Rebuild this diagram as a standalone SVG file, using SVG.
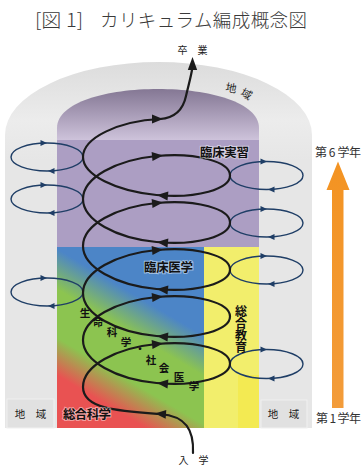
<svg xmlns="http://www.w3.org/2000/svg" width="361" height="465" viewBox="0 0 361 465">
<defs>
<style>
text{font-family:"Noto Sans CJK JP","Noto Sans",sans-serif;fill:#222}
.lbl{font-size:12.5px;font-weight:700;fill:#111;stroke:#fff;stroke-opacity:.45;stroke-width:2;paint-order:stroke}
.sm{font-size:10px;fill:#222}
.diag{font-size:10.5px;font-weight:700;fill:#111;text-anchor:middle}
.vert{font-size:12px;font-weight:700;fill:#111;writing-mode:vertical-rl}
.helix{fill:none;stroke:#1b1b1b;stroke-width:2.2;stroke-linecap:round}
.loop{fill:none;stroke:#1f3e66;stroke-width:1.4}
.ah{fill:#1b1b1b}
.bh{fill:#1f3e66}
</style>
<linearGradient id="gOuter" x1="0" y1="62" x2="0" y2="160" gradientUnits="userSpaceOnUse"><stop offset="0" stop-color="#dcdcdc"/><stop offset="0.6" stop-color="#ececec"/><stop offset="1" stop-color="#e6e6e6"/></linearGradient>
<linearGradient id="gDome" x1="0" y1="89" x2="0" y2="247" gradientUnits="userSpaceOnUse"><stop offset="0" stop-color="#847794"/><stop offset="0.32" stop-color="#cdc2da"/><stop offset="0.322" stop-color="#ac9ec3"/><stop offset="1" stop-color="#ac9ec3"/></linearGradient>
<linearGradient id="gMed" x1="72" y1="438" x2="190" y2="238.5" gradientUnits="userSpaceOnUse"><stop offset="0" stop-color="#e95252"/><stop offset="0.2" stop-color="#e95252"/><stop offset="0.34" stop-color="#8cc450"/><stop offset="0.52" stop-color="#8cc450"/><stop offset="0.67" stop-color="#4c85c7"/><stop offset="1" stop-color="#4c85c7"/></linearGradient>
<linearGradient id="gOrange" x1="0" y1="161" x2="0" y2="408" gradientUnits="userSpaceOnUse"><stop offset="0" stop-color="#f39322"/><stop offset="1" stop-color="#f39c3a"/></linearGradient>
<path id="ah" d="M0,0 L-11,-4.5 L-11,4.5 Z"/>
<path id="bh" d="M0,0 L-6.5,-3 L-6.5,3 Z"/>
</defs>

<g id="title">
<text x="35" y="27" style="font-size:18.5px;font-weight:300;fill:#3a3a3a" textLength="48" lengthAdjust="spacingAndGlyphs">[図 1]</text>
<text x="100" y="27" style="font-size:18.5px;font-weight:300;fill:#3a3a3a" textLength="207">カリキュラム編成概念図</text>
</g>

<g id="region-community">
<path d="M5,428 V135 A153.5,73 0 0 1 312,135 V428 Z" fill="url(#gOuter)"/>
<text x="231" y="92" class="sm" style="font-size:11px" text-anchor="middle" transform="rotate(10 231 88)">地</text>
<text x="246.5" y="98" class="sm" style="font-size:11px" text-anchor="middle" transform="rotate(30 246.5 94)">域</text>
</g>

<g id="region-clinical-practice">
<path d="M57,247 V128 C57,76 259,76 259,128 V247 Z" fill="url(#gDome)"/>
</g>

<g id="region-medicine">
<rect x="57" y="247" width="147" height="181" fill="url(#gMed)"/>
</g>

<g id="region-general-education">
<rect x="204" y="247" width="55" height="181" fill="#f2ee6c"/>
<rect x="238" y="375" width="21" height="53" fill="#f3ea52"/>
</g>

<g id="box-community-left">
<rect x="7" y="399" width="47" height="29" fill="#e1e1e1" stroke="#f0f0f0" stroke-width="1"/>
<text x="30.5" y="418" style="font-size:10.5px" text-anchor="middle">地　域</text>
</g>
<g id="box-community-right">
<rect x="261" y="400" width="46" height="28" fill="#e1e1e1" stroke="#f0f0f0" stroke-width="1"/>
<text x="283.5" y="418" style="font-size:10.5px" text-anchor="middle">地　域</text>
</g>

<g id="connectors">
<g id="loops-left">
<ellipse class="loop" cx="47" cy="157" rx="36" ry="14"/>
<ellipse class="loop" cx="47" cy="199" rx="36" ry="14"/>
<ellipse class="loop" cx="47" cy="292" rx="36" ry="14"/>
<use href="#bh" class="bh" transform="translate(47,143)"/>
<use href="#bh" class="bh" transform="translate(48,171) rotate(180)"/>
<use href="#bh" class="bh" transform="translate(47,185)"/>
<use href="#bh" class="bh" transform="translate(48,213) rotate(180)"/>
<use href="#bh" class="bh" transform="translate(47,278)"/>
<use href="#bh" class="bh" transform="translate(48,306) rotate(180)"/>
</g>
<g id="loops-right">
<ellipse class="loop" cx="266.5" cy="175.5" rx="36.5" ry="14"/>
<ellipse class="loop" cx="266.5" cy="223" rx="36.5" ry="14"/>
<ellipse class="loop" cx="266.5" cy="270" rx="36.5" ry="14"/>
<ellipse class="loop" cx="266.5" cy="364" rx="36.5" ry="14.5"/>
<use href="#bh" class="bh" transform="translate(267,161.5)"/>
<use href="#bh" class="bh" transform="translate(268,189.5) rotate(180)"/>
<use href="#bh" class="bh" transform="translate(267,209)"/>
<use href="#bh" class="bh" transform="translate(268,237) rotate(180)"/>
<use href="#bh" class="bh" transform="translate(267,256)"/>
<use href="#bh" class="bh" transform="translate(268,284) rotate(180)"/>
<use href="#bh" class="bh" transform="translate(267,349.5)"/>
<use href="#bh" class="bh" transform="translate(268,378.5) rotate(180)"/>
</g>
<path id="helix" class="helix" d="M193,453 C194,430 186,416 160,414 C118,411 83,409 83,387
C83,365.82 115.91,347.92 156.5,344 C197.09,340.08 230,350.16 230,363.5 C230,376.84 197.09,386.92 156.5,383 C115.91,379.08 83,361.18 83,340
C83,318.82 115.91,300.92 156.5,297 C197.09,293.08 230,303.16 230,316.5 C230,329.84 197.09,339.92 156.5,336 C115.91,332.08 83,314.18 83,293
C83,271.82 115.91,253.92 156.5,250 C197.09,246.08 230,256.16 230,269.5 C230,282.84 197.09,292.92 156.5,289 C115.91,285.08 83,267.18 83,246
C83,224.82 115.91,206.92 156.5,203 C197.09,199.08 230,209.16 230,222.5 C230,235.84 197.09,245.92 156.5,242 C115.91,238.08 83,220.18 83,199
C83,177.82 115.91,159.92 156.5,156 C197.09,152.08 230,162.16 230,175.5 C230,188.84 197.09,198.92 156.5,195 C115.91,191.08 83,175 83,157
C83,138 118,121 160,119 C174,118 183,110 186,96 C188.5,85 191,77 192.3,68"/>
<polygon class="ah" points="192.5,57 187.8,70 197.2,70"/>
<g id="helix-arrows">
<use href="#ah" class="ah" transform="translate(155,413.6) rotate(184)"/>
<use href="#ah" class="ah" transform="translate(163,343.4) rotate(-5.7)"/>
<use href="#ah" class="ah" transform="translate(157,383) rotate(185.7)"/>
<use href="#ah" class="ah" transform="translate(163,296.4) rotate(-5.7)"/>
<use href="#ah" class="ah" transform="translate(157,336) rotate(185.7)"/>
<use href="#ah" class="ah" transform="translate(163,249.4) rotate(-5.7)"/>
<use href="#ah" class="ah" transform="translate(157,289) rotate(185.7)"/>
<use href="#ah" class="ah" transform="translate(163,202.4) rotate(-5.7)"/>
<use href="#ah" class="ah" transform="translate(157,242) rotate(185.7)"/>
<use href="#ah" class="ah" transform="translate(163,155.4) rotate(-5.7)"/>
<use href="#ah" class="ah" transform="translate(157,195) rotate(185.7)"/>
<use href="#ah" class="ah" transform="translate(163,119)"/>
</g>
<polygon id="year-arrow" points="332,408 332,190 326.5,190 338,161.5 349.5,190 343.5,190 343.5,408" fill="url(#gOrange)"/>
</g>

<g id="node-graduation"><text x="192.5" y="54" class="sm" text-anchor="middle">卒　業</text></g>
<g id="node-admission"><text x="193.5" y="463.5" class="sm" text-anchor="middle">入　学</text></g>
<g id="node-year6"><text x="315" y="157" style="font-size:12px;fill:#333" textLength="46">第 6 学年</text></g>
<g id="node-year1"><text x="316" y="423" style="font-size:12px;fill:#333" textLength="45">第 1 学年</text></g>

<g id="node-clinical-practice"><text x="200" y="156.5" class="lbl" textLength="49">臨床実習</text></g>
<g id="node-clinical-medicine"><text x="144" y="272" class="lbl" textLength="49">臨床医学</text></g>
<g id="node-general-science"><text x="63" y="419" class="lbl" textLength="48">総合科学</text></g>
<g id="node-general-education">
<text x="241" y="305" class="vert">総合教育</text>
</g>
<g id="node-life-social-medicine">
<text x="85" y="317" class="diag">生</text>
<text x="98" y="326" class="diag">命</text>
<text x="112" y="336" class="diag">科</text>
<text x="126" y="346" class="diag">学</text>
<text x="140" y="353" class="diag">・</text>
<text x="151" y="364" class="diag">社</text>
<text x="164" y="372" class="diag">会</text>
<text x="179" y="381" class="diag">医</text>
<text x="194" y="390" class="diag">学</text>
</g>
</svg>
